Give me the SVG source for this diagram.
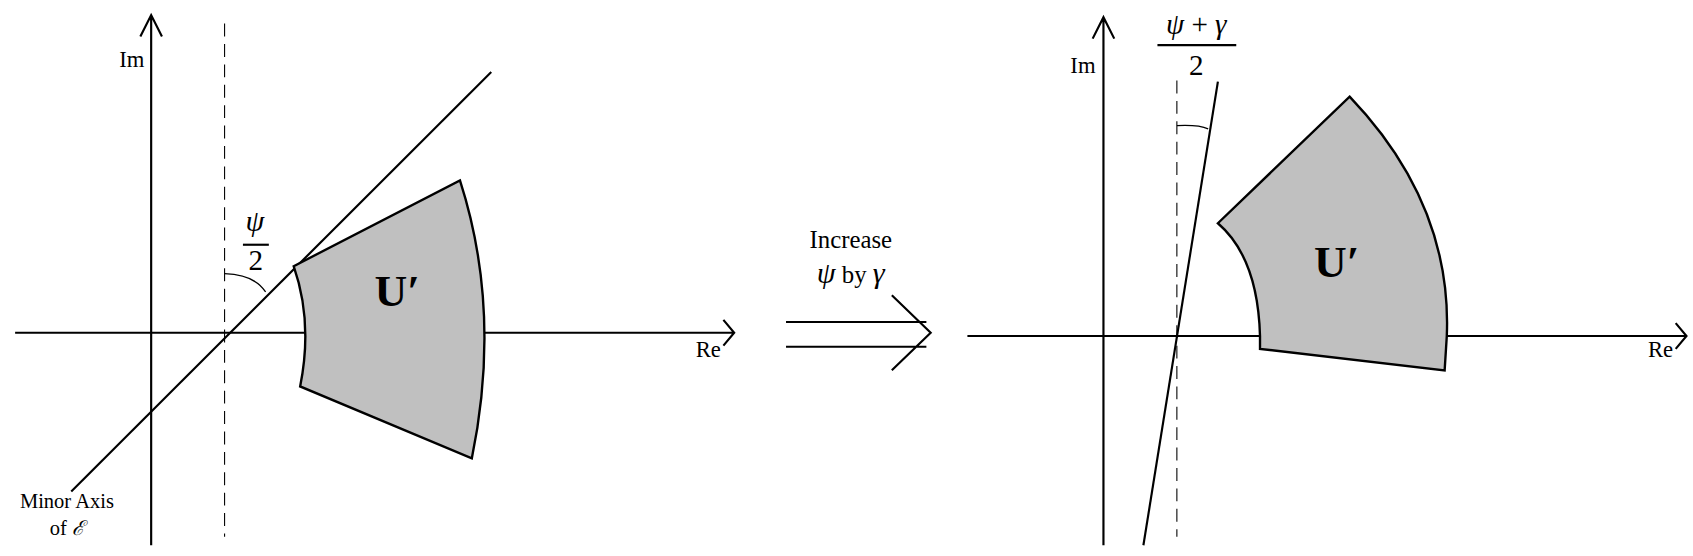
<svg xmlns="http://www.w3.org/2000/svg" width="1693" height="556" viewBox="0 0 1693 556">
<defs>
<style>
.ax{stroke:#000;stroke-width:2;fill:none}
.thin{stroke:#000;stroke-width:1.2;fill:none}
.dash{stroke:#000;stroke-width:1;stroke-dasharray:12,7;fill:none}
.reg{fill:#c0c0c0;stroke:#000;stroke-width:2.2}
text{font-family:"Liberation Serif",serif;fill:#000}
.m{font-style:italic}
</style>
</defs>
<rect width="1693" height="556" fill="#fff"/>
<g transform="scale(1.0797,1.0734)">
<g id="left">
<g id="connectors-left">
<path class="ax" d="M140 508V14M130 34L140 14L150 34"/>
<path class="ax" d="M14 310H680M670 298L680 310L670 322"/>
<path class="dash" d="M208 22V500"/>
<path class="ax" d="M66 458L455 67"/>
<path class="thin" d="M208 255Q236 256 246 272"/>
</g>
<path id="regionL" class="reg" d="M272 248L426 168Q465 290 437 427L278 360Q290 300 272 248Z"/>
<text x="122" y="62" font-size="21" text-anchor="middle">Im</text>
<text x="656" y="333" font-size="21" text-anchor="middle">Re</text>
<text x="236" y="215" font-size="28" class="m" text-anchor="middle">ψ</text>
<path d="M225 228H249" stroke="#000" stroke-width="2"/>
<text x="237" y="252" font-size="27" text-anchor="middle">2</text>
<text x="368" y="285" font-size="42" font-weight="bold" text-anchor="middle">U′</text>
<text x="62" y="473" font-size="19" text-anchor="middle">Minor Axis</text>
<text x="62" y="498" font-size="19" text-anchor="middle">of <tspan font-style="italic">ℰ</tspan></text>
</g>
<g id="middle">
<text x="788" y="231" font-size="23" text-anchor="middle">Increase</text>
<text x="788" y="264" font-size="23" text-anchor="middle"><tspan class="m" font-size="28">ψ</tspan> by <tspan class="m" font-size="28">γ</tspan></text>
<path class="ax" d="M728 300H858M728 323H858M826 275L862 310L826 345"/>
</g>
<g id="right">
<g id="connectors-right">
<path class="ax" d="M1022 508V16M1012 36L1022 16L1032 36"/>
<path class="ax" d="M896 313H1562M1552 301L1562 313L1552 325"/>
<path class="dash" d="M1090 75V500"/>
<path class="ax" d="M1059 508L1128 76"/>
<path class="thin" d="M1090 117Q1110 116 1119 120"/>
</g>
<path id="regionR" class="reg" d="M1128 208L1250 90Q1345 190 1340 313L1338 345L1167 325L1167 313Q1165 240 1128 208Z"/>
<text x="1003" y="68" font-size="21" text-anchor="middle">Im</text>
<text x="1538" y="333" font-size="21" text-anchor="middle">Re</text>
<text x="1108" y="32" font-size="27" text-anchor="middle"><tspan class="m">ψ</tspan> + <tspan class="m">γ</tspan></text>
<path d="M1072 42H1145" stroke="#000" stroke-width="2"/>
<text x="1108" y="70" font-size="27" text-anchor="middle">2</text>
<text x="1238" y="258" font-size="42" font-weight="bold" text-anchor="middle">U′</text>
</g>
</g>
</svg>
